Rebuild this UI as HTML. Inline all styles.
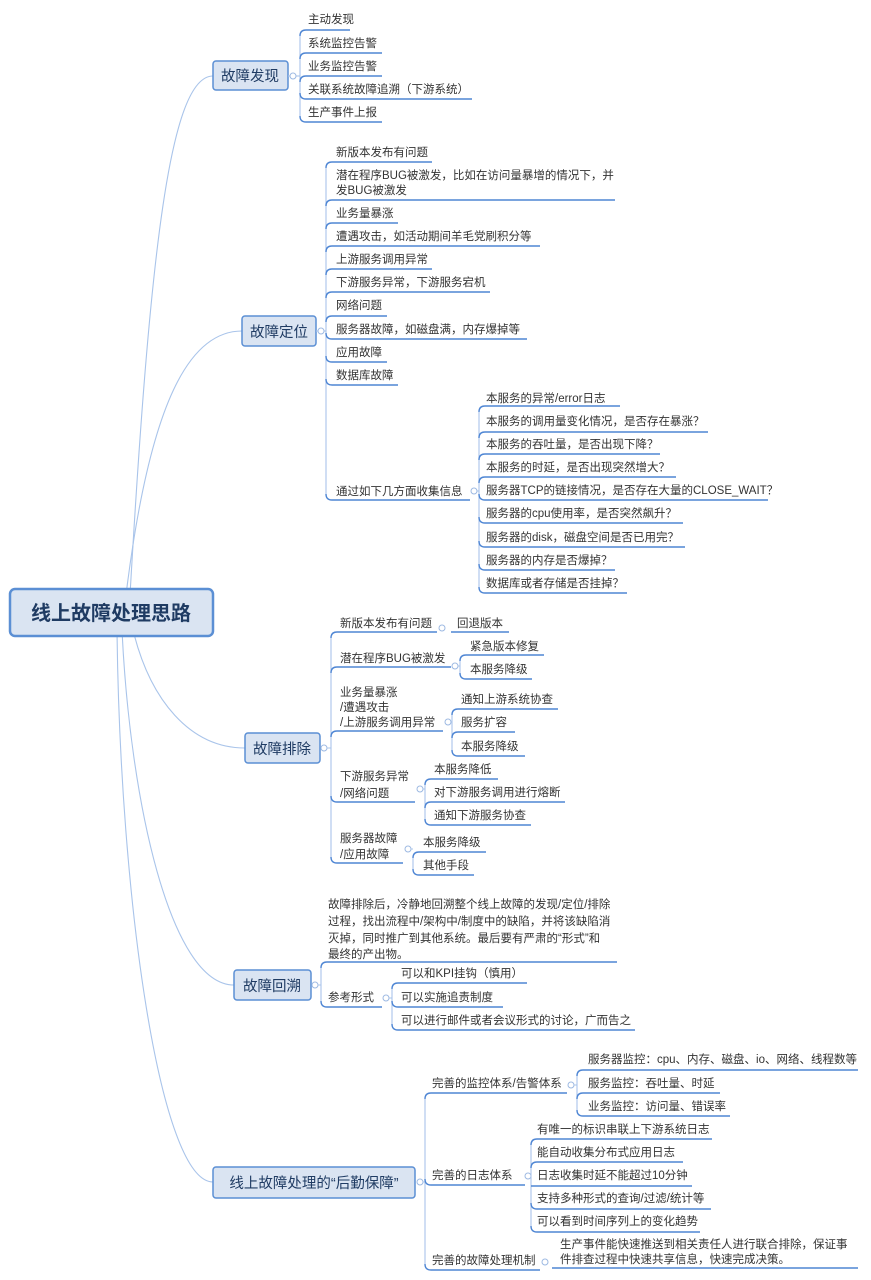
<!DOCTYPE html>
<html><head><meta charset="utf-8"><style>
html,body{margin:0;padding:0;background:#fff;}
svg{display:block;}
text{font-family:"Liberation Sans","Noto Sans CJK SC",sans-serif;fill:#333;font-size:11.5px;}
.u{stroke:#4f86d4;stroke-width:1.4;fill:none;}
.c{stroke:#a9c4ea;stroke-width:1.1;fill:none;}
.b{fill:#dae4f2;stroke:#5b8fd4;stroke-width:1.5;}
.o{fill:#fff;stroke:#9db9e2;stroke-width:1;}
.h{font-size:14.5px;fill:#1f3b63;}
</style></head><body>
<svg width="871" height="1280" viewBox="0 0 871 1280">
<!-- root connectors -->
<path class="c" d="M130 595 C 150 250, 170 76, 213 76"/>
<path class="c" d="M126 595 C 150 400, 190 331, 242 331"/>
<path class="c" d="M133 630 C 150 700, 190 748, 245 748"/>
<path class="c" d="M122 630 C 130 800, 170 985, 234 985"/>
<path class="c" d="M117 630 C 120 900, 160 1182, 213 1182"/>
<!-- root -->
<rect x="10" y="589" width="203" height="47" rx="5" class="b" stroke-width="2.5" style="stroke-width:2.5"/>
<text x="111" y="620" text-anchor="middle" style="font-size:20px;font-weight:bold;fill:#1f3b63">线上故障处理思路</text>

<!-- 故障发现 -->
<rect x="213" y="61" width="75" height="29" rx="3" class="b"/>
<text x="250" y="81" text-anchor="middle" class="h">故障发现</text>
<path class="c" d="M288 76 L300 76"/>
<path class="c" d="M300 36 L300 116"/>
<circle cx="293" cy="76" r="3" class="o"/>
<g>
<path class="u" d="M300 36 Q300 30 306 30 L350 30"/><text x="308" y="23">主动发现</text>
<path class="u" d="M300 59 Q300 53 306 53 L382 53"/><text x="308" y="47">系统监控告警</text>
<path class="u" d="M300 82 Q300 76 306 76 L382 76"/><text x="308" y="70">业务监控告警</text>
<path class="u" d="M300 93 Q300 99 306 99 L472 99"/><text x="308" y="93">关联系统故障追溯（下游系统）</text>
<path class="u" d="M300 116 Q300 122 306 122 L382 122"/><text x="308" y="116">生产事件上报</text>
</g>

<!-- 故障定位 -->
<rect x="242" y="316" width="74" height="30" rx="3" class="b"/>
<text x="279" y="337" text-anchor="middle" class="h">故障定位</text>
<path class="c" d="M316 331 L326 331"/>
<path class="c" d="M326 168 L326 494"/>
<circle cx="321" cy="331" r="3" class="o"/>
<path class="u" d="M326 168 Q326 162 332 162 L432 162"/><text x="336" y="156">新版本发布有问题</text>
<path class="u" d="M326 206 Q326 200 332 200 L615 200"/><text x="336" y="179">潜在程序BUG被激发，比如在访问量暴增的情况下，并</text><text x="336" y="194">发BUG被激发</text>
<path class="u" d="M326 229 Q326 223 332 223 L398 223"/><text x="336" y="217">业务量暴涨</text>
<path class="u" d="M326 252 Q326 246 332 246 L540 246"/><text x="336" y="240">遭遇攻击，如活动期间羊毛党刷积分等</text>
<path class="u" d="M326 275 Q326 269 332 269 L432 269"/><text x="336" y="263">上游服务调用异常</text>
<path class="u" d="M326 298 Q326 292 332 292 L490 292"/><text x="336" y="286">下游服务异常，下游服务宕机</text>
<path class="u" d="M326 322 Q326 316 332 316 L387 316"/><text x="336" y="309">网络问题</text>
<path class="u" d="M326 333 Q326 339 332 339 L527 339"/><text x="336" y="333">服务器故障，如磁盘满，内存爆掉等</text>
<path class="u" d="M326 356 Q326 362 332 362 L387 362"/><text x="336" y="356">应用故障</text>
<path class="u" d="M326 379 Q326 385 332 385 L398 385"/><text x="336" y="379">数据库故障</text>
<path class="u" d="M326 494 Q326 500 332 500 L470 500"/><text x="336" y="495">通过如下几方面收集信息</text>
<circle cx="474" cy="491" r="3" class="o"/>
<path class="c" d="M477 491 L479 491 M479 412 L479 587"/>
<path class="u" d="M479 412 Q479 406 485 406 L620 406"/><text x="486" y="402">本服务的异常/error日志</text>
<path class="u" d="M479 438 Q479 432 485 432 L708 432"/><text x="486" y="425">本服务的调用量变化情况，是否存在暴涨？</text>
<path class="u" d="M479 460 Q479 454 485 454 L660 454"/><text x="486" y="448">本服务的吞吐量，是否出现下降？</text>
<path class="u" d="M479 483 Q479 477 485 477 L676 477"/><text x="486" y="471">本服务的时延，是否出现突然增大？</text>
<path class="u" d="M479 494 Q479 500 485 500 L768 500"/><text x="486" y="494">服务器TCP的链接情况，是否存在大量的CLOSE_WAIT？</text>
<path class="u" d="M479 517 Q479 523 485 523 L683 523"/><text x="486" y="517">服务器的cpu使用率，是否突然飙升？</text>
<path class="u" d="M479 541 Q479 547 485 547 L685 547"/><text x="486" y="541">服务器的disk，磁盘空间是否已用完？</text>
<path class="u" d="M479 564 Q479 570 485 570 L615 570"/><text x="486" y="564">服务器的内存是否爆掉？</text>
<path class="u" d="M479 587 Q479 593 485 593 L627 593"/><text x="486" y="587">数据库或者存储是否挂掉？</text>

<!-- 故障排除 -->
<rect x="245" y="733" width="75" height="30" rx="3" class="b"/>
<text x="282" y="754" text-anchor="middle" class="h">故障排除</text>
<circle cx="324" cy="748" r="3" class="o"/>
<path class="c" d="M327 748 L331 748 M331 638 L331 858"/>
<path class="u" d="M331 638 Q331 632 337 632 L437 632"/><text x="340" y="627">新版本发布有问题</text>
<circle cx="442" cy="628" r="3" class="o"/>
<path class="u" d="M451 632 L509 632"/><text x="457" y="627">回退版本</text>
<path class="u" d="M331 673 Q331 667 337 667 L451 667"/><text x="340" y="662">潜在程序BUG被激发</text>
<circle cx="455" cy="666" r="3" class="o"/>
<path class="c" d="M458 666 L460 666 M460 661 L460 673"/>
<path class="u" d="M460 661 Q460 655 466 655 L544 655"/><text x="470" y="650">紧急版本修复</text>
<path class="u" d="M460 673 Q460 679 466 679 L532 679"/><text x="470" y="673">本服务降级</text>
<path class="u" d="M331 737 Q331 731 337 731 L443 731"/><text x="340" y="696">业务量暴涨</text><text x="340" y="711">/遭遇攻击</text><text x="340" y="726">/上游服务调用异常</text>
<circle cx="448" cy="722" r="3" class="o"/>
<path class="c" d="M451 722 L452 722 M452 715 L452 750"/>
<path class="u" d="M452 715 Q452 709 458 709 L558 709"/><text x="461" y="703">通知上游系统协查</text>
<path class="u" d="M452 738 Q452 732 458 732 L515 732"/><text x="461" y="726">服务扩容</text>
<path class="u" d="M452 750 Q452 756 458 756 L525 756"/><text x="461" y="750">本服务降级</text>
<path class="u" d="M331 796 Q331 802 337 802 L415 802"/><text x="340" y="780">下游服务异常</text><text x="340" y="797">/网络问题</text>
<circle cx="420" cy="789" r="3" class="o"/>
<path class="c" d="M423 789 L425 789 M425 785 L425 819"/>
<path class="u" d="M425 785 Q425 779 431 779 L498 779"/><text x="434" y="773">本服务降低</text>
<path class="u" d="M425 808 Q425 802 431 802 L565 802"/><text x="434" y="796">对下游服务调用进行熔断</text>
<path class="u" d="M425 819 Q425 825 431 825 L531 825"/><text x="434" y="819">通知下游服务协查</text>
<path class="u" d="M331 857 Q331 863 337 863 L403 863"/><text x="340" y="842">服务器故障</text><text x="340" y="858">/应用故障</text>
<circle cx="408" cy="849" r="3" class="o"/>
<path class="c" d="M411 849 L413 849 M413 858 L413 869"/>
<path class="u" d="M413 858 Q413 852 419 852 L486 852"/><text x="423" y="846">本服务降级</text>
<path class="u" d="M413 869 Q413 875 419 875 L474 875"/><text x="423" y="869">其他手段</text>

<!-- 故障回溯 -->
<rect x="234" y="970" width="77" height="30" rx="3" class="b"/>
<text x="272" y="991" text-anchor="middle" class="h">故障回溯</text>
<circle cx="315" cy="985" r="3" class="o"/>
<path class="c" d="M318 985 L321 985 M321 968 L321 1001"/>
<path class="u" d="M321 968 Q321 962 327 962 L617 962"/>
<text x="328" y="908">故障排除后，冷静地回溯整个线上故障的发现/定位/排除</text>
<text x="328" y="925">过程，找出流程中/架构中/制度中的缺陷，并将该缺陷消</text>
<text x="328" y="942">灭掉，同时推广到其他系统。最后要有严肃的“形式”和</text>
<text x="328" y="958">最终的产出物。</text>
<path class="u" d="M321 1001 Q321 1007 327 1007 L382 1007"/><text x="328" y="1001">参考形式</text>
<circle cx="386" cy="998" r="3" class="o"/>
<path class="c" d="M389 998 L392 998 M392 989 L392 1024"/>
<path class="u" d="M392 989 Q392 983 398 983 L527 983"/><text x="401" y="977">可以和KPI挂钩（慎用）</text>
<path class="u" d="M392 1001 Q392 1007 398 1007 L503 1007"/><text x="401" y="1001">可以实施追责制度</text>
<path class="u" d="M392 1024 Q392 1030 398 1030 L635 1030"/><text x="401" y="1024">可以进行邮件或者会议形式的讨论，广而告之</text>

<!-- 后勤保障 -->
<rect x="213" y="1167" width="202" height="31" rx="3" class="b"/>
<text x="314" y="1188" text-anchor="middle" class="h">线上故障处理的“后勤保障”</text>
<circle cx="420" cy="1182" r="3" class="o"/>
<path class="c" d="M423 1182 L425 1182 M425 1099 L425 1264"/>
<path class="u" d="M425 1099 Q425 1093 431 1093 L567 1093"/><text x="432" y="1087">完善的监控体系/告警体系</text>
<circle cx="571" cy="1085" r="3" class="o"/>
<path class="c" d="M574 1085 L577 1085 M577 1076 L577 1110"/>
<path class="u" d="M577 1076 Q577 1070 583 1070 L858 1070"/><text x="588" y="1063">服务器监控：cpu、内存、磁盘、io、网络、线程数等</text>
<path class="u" d="M577 1099 Q577 1093 583 1093 L720 1093"/><text x="588" y="1087">服务监控：吞吐量、时延</text>
<path class="u" d="M577 1110 Q577 1116 583 1116 L730 1116"/><text x="588" y="1110">业务监控：访问量、错误率</text>
<path class="u" d="M425 1179 Q425 1185 431 1185 L525 1185"/><text x="432" y="1179">完善的日志体系</text>
<circle cx="528" cy="1176" r="3" class="o"/>
<path class="c" d="M531 1145 L531 1226"/>
<path class="u" d="M531 1145 Q531 1139 537 1139 L712 1139"/><text x="537" y="1133">有唯一的标识串联上下游系统日志</text>
<path class="u" d="M531 1168 Q531 1162 537 1162 L683 1162"/><text x="537" y="1156">能自动收集分布式应用日志</text>
<path class="u" d="M531 1186 L692 1186"/><text x="537" y="1179">日志收集时延不能超过10分钟</text>
<path class="u" d="M531 1203 Q531 1209 537 1209 L711 1209"/><text x="537" y="1202">支持多种形式的查询/过滤/统计等</text>
<path class="u" d="M531 1226 Q531 1232 537 1232 L700 1232"/><text x="537" y="1225">可以看到时间序列上的变化趋势</text>
<path class="u" d="M425 1264 Q425 1270 431 1270 L540 1270"/><text x="432" y="1264">完善的故障处理机制</text>
<circle cx="545" cy="1262" r="3" class="o"/>
<path class="u" d="M552 1268 L858 1268"/>
<text x="560" y="1248">生产事件能快速推送到相关责任人进行联合排除，保证事</text>
<text x="560" y="1263">件排查过程中快速共享信息，快速完成决策。</text>
</svg>
</body></html>
